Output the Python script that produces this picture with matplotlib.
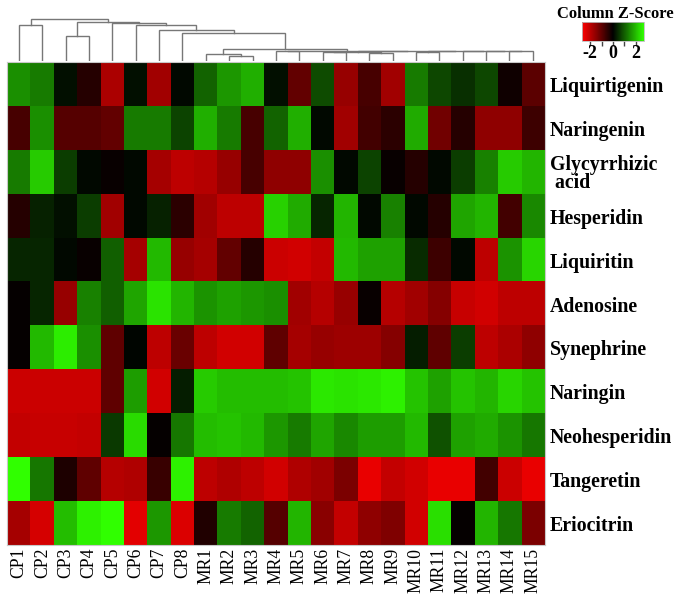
import numpy as np
import matplotlib
matplotlib.use("Agg")
import matplotlib.pyplot as plt
from matplotlib.colors import LinearSegmentedColormap, Normalize
from matplotlib.cm import ScalarMappable
from matplotlib.transforms import ScaledTranslation

samples = ["CP1", "CP2", "CP3", "CP4", "CP5", "CP6", "CP7", "CP8",
           "MR1", "MR2", "MR3", "MR4", "MR5", "MR6", "MR7", "MR8", "MR9",
           "MR10", "MR11", "MR12", "MR13", "MR14", "MR15"]
compounds = ["Liquirtigenin", "Naringenin", "Glycyrrhizic\n acid", "Hesperidin", "Liquiritin",
             "Adenosine", "Synephrine", "Naringin", "Neohesperidin", "Tangeretin", "Eriocitrin"]

# z-scores
liquirtigenin = [1.5, 1.3, .15, -.4, -1.8, .15, -1.7, .1, 1.05, 1.6, 1.85, .15, -1.05, .8, -1.6, -.75, -1.7, 1.3, .75, .5, .75, -.15, -.95]
naringenin = [-.75, 1.5, -.9, -.9, -1.05, 1.3, 1.3, .7, 1.85, 1.3, -.75, 1.05, 1.85, .1, -1.7, -.7, -.45, 1.8, -1.2, -.4, -1.5, -1.5, -.65]
glycyrrhizic = [1.3, 2.15, .65, .1, -.1, .1, -1.75, -2.0, -1.9, -1.6, -.75, -1.5, -1.5, 1.5, .1, .7, -.1, -.4, .1, .65, 1.35, 2.15, 1.9]
hesperidin = [-.4, .35, .15, .65, -1.7, .1, .35, -.45, -1.7, -2.0, -2.0, 2.2, 1.8, .4, 1.9, .1, 1.35, .1, -.4, 1.75, 1.9, -.7, 1.45]
liquiritin = [.4, .4, .1, -.1, 1.0, -1.75, 1.95, -1.6, -1.75, -1.05, -.4, -2.15, -2.2, -2.05, 1.95, 1.7, 1.7, .45, -.65, .1, -2.0, 1.55, 2.25]
adenosine = [-.05, .4, -1.6, 1.35, 1.0, 1.75, 2.4, 1.9, 1.55, 1.7, 1.6, 1.5, -1.7, -1.9, -1.6, -.1, -1.9, -1.7, -1.4, -2.1, -2.2, -2.0, -2.0]
synephrine = [-.05, 1.95, 2.5, 1.5, -1.0, .05, -2.0, -1.1, -2.0, -2.2, -2.2, -1.0, -1.75, -1.6, -1.65, -1.65, -1.4, .3, -1.0, .65, -2.0, -1.8, -1.5]
naringin = [-2.15, -2.15, -2.15, -2.15, -1.0, 1.65, -2.2, .3, 2.15, 2.0, 2.0, 2.0, 2.05, 2.45, 2.4, 2.45, 2.55, 2.05, 1.7, 2.05, 1.9, 2.25, 2.05]
neohesperidin = [-2.05, -2.1, -2.1, -2.05, .6, 2.3, -.05, 1.25, 2.0, 2.05, 1.95, 1.6, 1.3, 1.75, 1.45, 1.65, 1.65, 1.95, .85, 1.7, 1.8, 1.55, 1.25]
tangeretin = [2.7, 1.25, -.3, -1.0, -1.9, -1.85, -.6, 2.55, -2.0, -1.85, -2.0, -2.2, -1.85, -1.7, -1.3, -2.45, -2.05, -2.2, -2.45, -2.45, -.7, -2.15, -2.45]
eriocitrin = [-1.75, -2.25, 2.0, 2.55, 2.7, -2.4, 1.6, -2.3, -.35, 1.3, 1.05, -.9, 1.9, -1.45, -2.05, -1.5, -1.35, -2.2, 2.35, -.05, 1.9, 1.25, -1.3]

# dendrogram merges, new nodes are numbered from 23 up
# heights are the y pixel of the join in the picture
den_left = [9, 8, 11, 13, 15, 26, 17, 21, 20, 19, 29, 28, 25, 24, 7, 6, 5, 4, 2, 41, 0, 43]
den_right = [10, 23, 12, 14, 16, 27, 18, 22, 30, 31, 32, 33, 34, 35, 36, 37, 38, 39, 3, 40, 1, 42]
den_height = [55.7, 54, 51, 52.3, 53.3, 51.6, 52, 51.1, 51.3, 51.4, 51.1, 51.1, 50.7, 49, 32.5, 30, 25, 23.3, 36, 22, 25, 18.7]

bar_ticks = [-2, -1, 0, 1, 2]
bar_labels = ["-2", "", "0", "", "2"]

W, H = 685, 597
serif = "Liberation Serif"


def pixel_axes(fig, x0, y0, x1, y1):
    return fig.add_axes([x0 / W, 1 - y1 / H, (x1 - x0) / W, (y1 - y0) / H])


cmap = LinearSegmentedColormap.from_list("rg", ["#FF0000", "#000000", "#30FF00"])
norm = Normalize(-2.7, 2.7)

z = np.array([liquirtigenin, naringenin, glycyrrhizic, hesperidin, liquiritin, adenosine,
              synephrine, naringin, neohesperidin, tangeretin, eriocitrin])

fig = plt.figure(figsize=(W / 100, H / 100), dpi=100)

# heat map
ax = pixel_axes(fig, 7.3, 62, 544.5, 545)
ax.imshow(z, cmap=cmap, norm=norm, aspect="auto", interpolation="nearest")
ax.set_xticks(range(len(samples)))
ax.set_xticklabels(samples, rotation=90, family=serif, fontsize=12.7, va="top", ha="center")
ax.set_yticks(range(len(compounds)))
ax.set_yticklabels(compounds, family=serif, fontsize=14.3, fontweight="bold", ha="left", linespacing=0.88)
ax.yaxis.tick_right()
ax.tick_params(length=0, pad=4)
ax.tick_params(axis="x", pad=2)
for lab in ax.get_yticklabels():
    lab.set_transform(lab.get_transform() + ScaledTranslation(0, -0.5 / 100, fig.dpi_scale_trans))
for s in ax.spines.values():
    s.set_color("#c8c8c8")
    s.set_linewidth(0.8)

# dendrogram
den = pixel_axes(fig, 7.3, 0, 544.5, 61)
den.set_xlim(-0.5, len(samples) - 0.5)
den.set_ylim(61, 0)
den.axis("off")
nx = {i: i for i in range(len(samples))}
ny = {i: 61 for i in range(len(samples))}
for i, (a, b, h) in enumerate(zip(den_left, den_right, den_height)):
    den.plot([nx[a], nx[a], nx[b], nx[b]], [ny[a], h, h, ny[b]], color="#777777", lw=1, solid_joinstyle="miter")
    nx[len(samples) + i] = (nx[a] + nx[b]) / 2
    ny[len(samples) + i] = h

# colour key
cax = pixel_axes(fig, 582, 22, 644, 40.5)
cb = fig.colorbar(ScalarMappable(norm=norm, cmap=cmap), cax=cax, orientation="horizontal")
cb.set_ticks(bar_ticks)
cb.set_ticklabels(bar_labels, family=serif, fontsize=13, fontweight="bold")
cb.ax.tick_params(length=3.5, width=1, pad=0, color="#444444")
cb.outline.set_edgecolor("#bbbbbb")
cb.outline.set_linewidth(0.6)
fig.text(615 / W, 1 - 14 / H, "Column Z-Score", family=serif, fontsize=11.9, fontweight="bold",
         ha="center", va="center")

fig.savefig("out.png", dpi=100)
